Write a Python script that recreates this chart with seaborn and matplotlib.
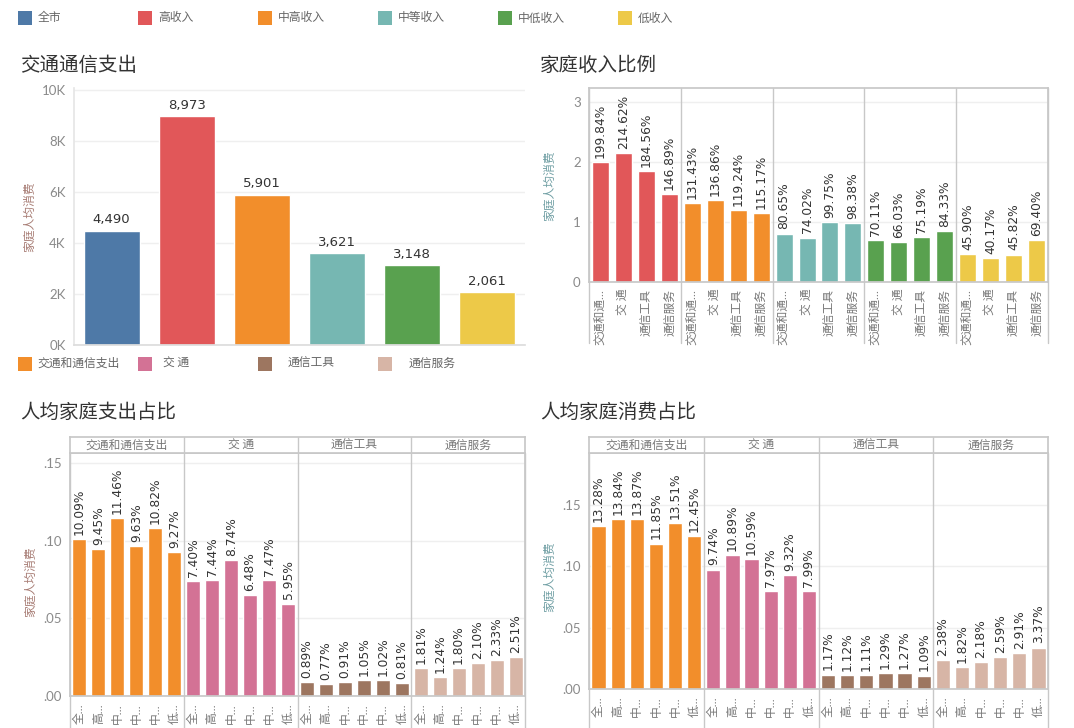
import numpy as np
import pandas as pd
import matplotlib
matplotlib.use('Agg')
import matplotlib.pyplot as plt
import matplotlib.transforms as mtransforms
from matplotlib.patches import Rectangle
from matplotlib.ticker import FuncFormatter, FixedLocator
import seaborn as sns

# ---------------- data ----------------
groups = ['全市', '高收入', '中高收入', '中等收入', '中低收入', '低收入']
group_colors = ['#4e79a7', '#e15759', '#f28e2b', '#76b7b2', '#59a14f', '#edc948']
categories = ['交通和通信支出', '交 通', '通信工具', '通信服务']
category_colors = ['#f28e2b', '#d37295', '#9d7660', '#d7b5a6']

# 交通通信支出 (per group)
spend_total = [4490, 8973, 5901, 3621, 3148, 2061]

# 家庭收入比例 (%), per income group (excluding 全市), per category
ratio_high = [199.84, 214.62, 184.56, 146.89]
ratio_midhigh = [131.43, 136.86, 119.24, 115.17]
ratio_mid = [80.65, 74.02, 99.75, 98.38]
ratio_midlow = [70.11, 66.03, 75.19, 84.33]
ratio_low = [45.90, 40.17, 45.82, 69.40]

# 人均家庭支出占比 (%), per category, per group
exp_share_total = [10.09, 9.45, 11.46, 9.63, 10.82, 9.27]
exp_share_transport = [7.40, 7.44, 8.74, 6.48, 7.47, 5.95]
exp_share_device = [0.89, 0.77, 0.91, 1.05, 1.02, 0.81]
exp_share_service = [1.81, 1.24, 1.80, 2.10, 2.33, 2.51]

# 人均家庭消费占比 (%), per category, per group
con_share_total = [13.28, 13.84, 13.87, 11.85, 13.51, 12.45]
con_share_transport = [9.74, 10.89, 10.59, 7.97, 9.32, 7.99]
con_share_device = [1.17, 1.12, 1.11, 1.29, 1.27, 1.09]
con_share_service = [2.38, 1.82, 2.18, 2.59, 2.91, 3.37]

# ---------------- style ----------------
sns.set_theme(style='white')
plt.rcParams['font.family'] = ['Lato', 'Noto Sans CJK SC', 'DejaVu Sans']
plt.rcParams['axes.unicode_minus'] = False

W, H = 1074, 728
fig = plt.figure(figsize=(W / 100, H / 100), dpi=100)
fig.patch.set_facecolor('white')

BORDER = '#c8c8c8'
GRID = '#efefef'
TICK = '#8a8a8a'
LABEL = '#333333'
CJK = ['Noto Sans CJK SC', 'DejaVu Sans']
NUM = ['DejaVu Sans']


def rect(x0, y0, x1, y1):
    return [x0 / W, 1 - y1 / H, (x1 - x0) / W, (y1 - y0) / H]


def trunc(s, n):
    return s if len(s) <= n else s[:n] + '…'


def style_axis(ax, ymax, fmt, ticks):
    ax.set_ylim(0, ymax)
    ax.yaxis.set_major_locator(FixedLocator(ticks))
    ax.yaxis.set_major_formatter(FuncFormatter(fmt))
    ax.yaxis.grid(True, color=GRID, lw=1)
    ax.set_axisbelow(True)
    ax.tick_params(axis='y', length=0, labelsize=9.5, labelcolor=TICK, pad=6)
    ax.set_xlabel('')
    ax.set_ylabel('')


def draw_bars(ax, df, palette, width):
    sns.barplot(data=df, x='key', y='value', hue='grp', palette=palette, dodge=False,
                width=width, errorbar=None, saturation=1, legend=False, ax=ax,
                order=list(df['key']), hue_order=list(dict.fromkeys(df['grp'])))
    ax.set_xlim(-0.5, len(df) - 0.5)


def panel_lines(ax, xs, ybot):
    trans = mtransforms.blended_transform_factory(ax.transData, ax.transAxes)
    for x in xs:
        ax.plot([x, x], [ybot, 1], transform=trans, color=BORDER, lw=1,
                clip_on=False, zorder=0.6)


# ---------------- legends ----------------
for i, (g, c) in enumerate(zip(groups, group_colors)):
    x0 = 18 + i * 120
    fig.add_artist(Rectangle((x0 / W, 1 - 25 / H), 14 / W, 14 / H,
                             transform=fig.transFigure, color=c, lw=0))
    fig.text((x0 + 20) / W, 1 - 18 / H, g, fontsize=8.5, color='#666666',
             va='center', ha='left', family=CJK)

leg2_text_x = [37, 163, 288, 409]
for i, (cat, c) in enumerate(zip(categories, category_colors)):
    x0 = 18 + i * 120
    fig.add_artist(Rectangle((x0 / W, 1 - 371 / H), 14 / W, 14 / H,
                             transform=fig.transFigure, color=c, lw=0))
    fig.text(leg2_text_x[i] / W, 1 - 363 / H, cat, fontsize=8.5, color='#666666',
             va='center', ha='left', family=CJK)

# ---------------- titles ----------------
for (x, y, t) in [(20, 65, '交通通信支出'), (540, 65, '家庭收入比例'),
                  (20, 412, '人均家庭支出占比'), (540, 412, '人均家庭消费占比')]:
    fig.text(x / W, 1 - y / H, t, fontsize=14, color='#333333', va='center',
             ha='left', family=CJK)

# y-axis titles
for (x, y, c) in [(30, 217, '#a77c74'), (550, 186, '#6f9ea3'),
                  (31, 582, '#a77c74'), (550, 577, '#6f9ea3')]:
    fig.text(x / W, 1 - y / H, '家庭人均消费', fontsize=8.5, color=c, rotation=90,
             va='center', ha='center', family=CJK)

# ---------------- chart 1: 交通通信支出 ----------------
ax1 = fig.add_axes(rect(74, 88, 525, 345))
df1 = pd.DataFrame({'key': groups, 'value': spend_total, 'grp': groups})
draw_bars(ax1, df1, dict(zip(groups, group_colors)), 0.745)
style_axis(ax1, 10080, lambda v, p: f'{int(round(v / 1000))}K', [0, 2000, 4000, 6000, 8000, 10000])
for i, v in enumerate(df1['value']):
    ax1.annotate(f'{v:,}', (i, v), xytext=(0, 3), textcoords='offset points',
                 ha='center', va='bottom', fontsize=9.5, color=LABEL, family=NUM)
ax1.set_xticks([])
for s in ['top', 'right']:
    ax1.spines[s].set_visible(False)
ax1.spines['left'].set_color('#e6e6e6')
ax1.spines['bottom'].set_color('#dddddd')

# ---------------- chart 2: 家庭收入比例 ----------------
ratio_rows = [ratio_high, ratio_midhigh, ratio_mid, ratio_midlow, ratio_low]
rec = []
for g, vals in zip(groups[1:], ratio_rows):
    for cat, v in zip(categories, vals):
        rec.append({'key': f'{g}|{cat}', 'value': v / 100, 'grp': g,
                    'label': trunc(cat, 4), 'text': f'{v:.2f}%'})
df2 = pd.DataFrame(rec)
ax2 = fig.add_axes(rect(589, 88, 1048, 282))
draw_bars(ax2, df2, dict(zip(groups, group_colors)), 0.74)
style_axis(ax2, 3.233, lambda v, p: f'{int(v)}', [0, 1, 2, 3])
for i, (v, t) in enumerate(zip(df2['value'], df2['text'])):
    ax2.annotate(t, (i, v), xytext=(0, 3), textcoords='offset points', rotation=90,
                 ha='center', va='bottom', fontsize=8.8, color=LABEL, family=NUM)
ax2.set_xticks(range(len(df2)))
ax2.set_xticklabels(df2['label'], rotation=90, fontsize=8.5, color='#777777')
ax2.tick_params(axis='x', length=0, pad=5)
for s in ['top', 'left', 'right']:
    ax2.spines[s].set_color(BORDER)
ax2.spines['bottom'].set_color(BORDER)
n_cat = len(categories)
panel_lines(ax2, [k * n_cat - 0.5 for k in range(0, len(groups))], -(343 - 282) / (282 - 88))

# ---------------- charts 3 & 4: shares ----------------
def share_chart(box, hbox, series, ymax, bottom_px):
    rec = []
    for cat, vals in zip(categories, series):
        for g, v in zip(groups, vals):
            rec.append({'key': f'{cat}|{g}', 'value': v / 100, 'grp': cat,
                        'label': trunc(g, 1), 'text': f'{v:.2f}%'})
    df = pd.DataFrame(rec)
    ax = fig.add_axes(rect(*box))
    draw_bars(ax, df, dict(zip(categories, category_colors)), 0.74)
    style_axis(ax, ymax, lambda v, p: f'{v:.2f}'.lstrip('0'), [0, 0.05, 0.10, 0.15])
    for i, (v, t) in enumerate(zip(df['value'], df['text'])):
        ax.annotate(t, (i, v), xytext=(0, 3), textcoords='offset points', rotation=90,
                    ha='center', va='bottom', fontsize=8.8, color=LABEL, family=NUM)
    ax.set_xticks(range(len(df)))
    ax.set_xticklabels(df['label'], rotation=90, fontsize=8.5, color='#777777')
    ax.tick_params(axis='x', length=0, pad=5)
    for s in ['top', 'left', 'right', 'bottom']:
        ax.spines[s].set_color(BORDER)
    ng = len(groups)
    y0, y1 = box[1], box[3]
    panel_lines(ax, [k * ng - 0.5 for k in range(0, len(categories) + 1)],
                -(bottom_px - y1) / (y1 - y0))
    # header strip
    hax = fig.add_axes(rect(*hbox))
    hax.set_xlim(-0.5, len(df) - 0.5)
    hax.set_ylim(0, 1)
    hax.set_xticks([])
    hax.set_yticks([])
    hax.grid(False)
    for s in hax.spines.values():
        s.set_color(BORDER)
    for k, cat in enumerate(categories):
        if k > 0:
            hax.axvline(k * ng - 0.5, color=BORDER, lw=1)
        hax.text(k * ng + (ng - 1) / 2, 0.5, cat, ha='center', va='center',
                 fontsize=8.5, color='#777777', family=CJK)
    return ax


share_chart((70, 453, 525, 696), (70, 437, 525, 453),
            [exp_share_total, exp_share_transport, exp_share_device, exp_share_service],
            0.1564, 728)
share_chart((589, 453, 1048, 689), (589, 437, 1048, 453),
            [con_share_total, con_share_transport, con_share_device, con_share_service],
            0.1924, 728)

fig.savefig('out.png', dpi=100, facecolor='white')
